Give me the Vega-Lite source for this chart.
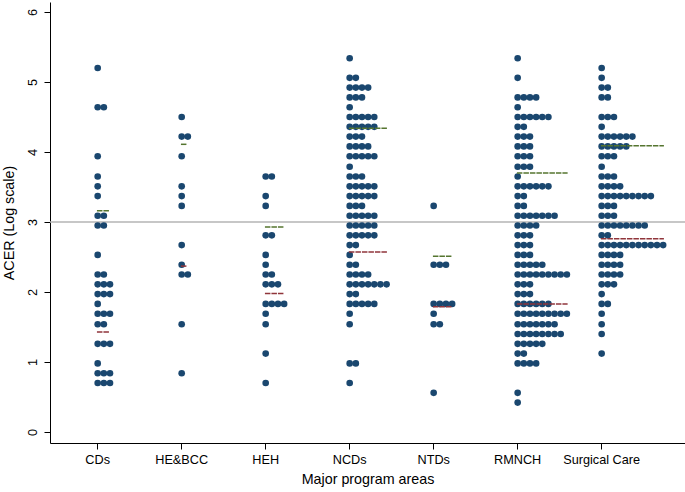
{
"$schema":"https://vega.github.io/schema/vega-lite/v6.json",
"width":635,"height":441,
"autosize":{"type":"none"},
"padding":{"left":50,"top":2,"right":0,"bottom":49},
"background":"white",
"config":{"view":{"stroke":null},"font":"Liberation Sans",
"axis":{"domainColor":"#000","tickColor":"#000","labelColor":"#000","titleColor":"#000","labelFont":"Liberation Sans","titleFont":"Liberation Sans","labelFontSize":12.7,"titleFontSize":14.3,"titleFontWeight":"normal","tickSize":6,"grid":false,"domainWidth":1,"tickWidth":1}},
"datasets":{
"refs":[
{"area":"CDs","upper":3.16,"lower":1.43},
{"area":"HE&BCC","upper":4.11,"lower":2.37},
{"area":"HEH","upper":2.93,"lower":1.98},
{"area":"NCDs","upper":4.34,"lower":2.57},
{"area":"NTDs","upper":2.51,"lower":1.79},
{"area":"RMNCH","upper":3.7,"lower":1.83},
{"area":"Surgical Care","upper":4.09,"lower":2.76}],
"dots":[
{"area":"CDs","acer":5.2},
{"area":"CDs","acer":4.64},{"area":"CDs","acer":4.64},
{"area":"CDs","acer":3.94},
{"area":"CDs","acer":3.65},
{"area":"CDs","acer":3.51},
{"area":"CDs","acer":3.37},
{"area":"CDs","acer":3.09},{"area":"CDs","acer":3.09},
{"area":"CDs","acer":2.95},{"area":"CDs","acer":2.95},
{"area":"CDs","acer":2.53},
{"area":"CDs","acer":2.25},{"area":"CDs","acer":2.25},
{"area":"CDs","acer":2.11},{"area":"CDs","acer":2.11},{"area":"CDs","acer":2.11},
{"area":"CDs","acer":1.97},{"area":"CDs","acer":1.97},{"area":"CDs","acer":1.97},
{"area":"CDs","acer":1.83},
{"area":"CDs","acer":1.69},{"area":"CDs","acer":1.69},{"area":"CDs","acer":1.69},
{"area":"CDs","acer":1.54},{"area":"CDs","acer":1.54},
{"area":"CDs","acer":1.26},{"area":"CDs","acer":1.26},{"area":"CDs","acer":1.26},
{"area":"CDs","acer":0.98},
{"area":"CDs","acer":0.84},{"area":"CDs","acer":0.84},{"area":"CDs","acer":0.84},
{"area":"CDs","acer":0.7},{"area":"CDs","acer":0.7},{"area":"CDs","acer":0.7},
{"area":"HE&BCC","acer":4.5},
{"area":"HE&BCC","acer":4.22},{"area":"HE&BCC","acer":4.22},
{"area":"HE&BCC","acer":3.94},
{"area":"HE&BCC","acer":3.51},
{"area":"HE&BCC","acer":3.37},
{"area":"HE&BCC","acer":3.23},
{"area":"HE&BCC","acer":2.67},
{"area":"HE&BCC","acer":2.39},
{"area":"HE&BCC","acer":2.25},{"area":"HE&BCC","acer":2.25},
{"area":"HE&BCC","acer":1.54},
{"area":"HE&BCC","acer":0.84},
{"area":"HEH","acer":3.65},{"area":"HEH","acer":3.65},
{"area":"HEH","acer":3.37},
{"area":"HEH","acer":3.23},
{"area":"HEH","acer":2.81},{"area":"HEH","acer":2.81},
{"area":"HEH","acer":2.53},
{"area":"HEH","acer":2.39},
{"area":"HEH","acer":2.25},{"area":"HEH","acer":2.25},
{"area":"HEH","acer":2.11},{"area":"HEH","acer":2.11},{"area":"HEH","acer":2.11},
{"area":"HEH","acer":1.83},{"area":"HEH","acer":1.83},{"area":"HEH","acer":1.83},{"area":"HEH","acer":1.83},
{"area":"HEH","acer":1.69},
{"area":"HEH","acer":1.54},
{"area":"HEH","acer":1.12},
{"area":"HEH","acer":0.7},
{"area":"NCDs","acer":5.34},
{"area":"NCDs","acer":5.06},{"area":"NCDs","acer":5.06},
{"area":"NCDs","acer":4.92},{"area":"NCDs","acer":4.92},{"area":"NCDs","acer":4.92},{"area":"NCDs","acer":4.92},
{"area":"NCDs","acer":4.78},{"area":"NCDs","acer":4.78},{"area":"NCDs","acer":4.78},
{"area":"NCDs","acer":4.64},
{"area":"NCDs","acer":4.5},{"area":"NCDs","acer":4.5},{"area":"NCDs","acer":4.5},{"area":"NCDs","acer":4.5},{"area":"NCDs","acer":4.5},
{"area":"NCDs","acer":4.36},{"area":"NCDs","acer":4.36},{"area":"NCDs","acer":4.36},{"area":"NCDs","acer":4.36},{"area":"NCDs","acer":4.36},
{"area":"NCDs","acer":4.22},{"area":"NCDs","acer":4.22},{"area":"NCDs","acer":4.22},
{"area":"NCDs","acer":4.08},{"area":"NCDs","acer":4.08},{"area":"NCDs","acer":4.08},{"area":"NCDs","acer":4.08},
{"area":"NCDs","acer":3.94},{"area":"NCDs","acer":3.94},{"area":"NCDs","acer":3.94},{"area":"NCDs","acer":3.94},{"area":"NCDs","acer":3.94},
{"area":"NCDs","acer":3.79},
{"area":"NCDs","acer":3.65},{"area":"NCDs","acer":3.65},{"area":"NCDs","acer":3.65},
{"area":"NCDs","acer":3.51},{"area":"NCDs","acer":3.51},{"area":"NCDs","acer":3.51},{"area":"NCDs","acer":3.51},{"area":"NCDs","acer":3.51},
{"area":"NCDs","acer":3.37},{"area":"NCDs","acer":3.37},{"area":"NCDs","acer":3.37},{"area":"NCDs","acer":3.37},{"area":"NCDs","acer":3.37},
{"area":"NCDs","acer":3.23},{"area":"NCDs","acer":3.23},{"area":"NCDs","acer":3.23},
{"area":"NCDs","acer":3.09},{"area":"NCDs","acer":3.09},{"area":"NCDs","acer":3.09},{"area":"NCDs","acer":3.09},{"area":"NCDs","acer":3.09},
{"area":"NCDs","acer":2.95},{"area":"NCDs","acer":2.95},{"area":"NCDs","acer":2.95},{"area":"NCDs","acer":2.95},{"area":"NCDs","acer":2.95},
{"area":"NCDs","acer":2.81},{"area":"NCDs","acer":2.81},{"area":"NCDs","acer":2.81},{"area":"NCDs","acer":2.81},{"area":"NCDs","acer":2.81},
{"area":"NCDs","acer":2.67},{"area":"NCDs","acer":2.67},
{"area":"NCDs","acer":2.53},
{"area":"NCDs","acer":2.39},{"area":"NCDs","acer":2.39},
{"area":"NCDs","acer":2.25},{"area":"NCDs","acer":2.25},{"area":"NCDs","acer":2.25},{"area":"NCDs","acer":2.25},
{"area":"NCDs","acer":2.11},{"area":"NCDs","acer":2.11},{"area":"NCDs","acer":2.11},{"area":"NCDs","acer":2.11},{"area":"NCDs","acer":2.11},{"area":"NCDs","acer":2.11},{"area":"NCDs","acer":2.11},
{"area":"NCDs","acer":1.97},{"area":"NCDs","acer":1.97},
{"area":"NCDs","acer":1.83},{"area":"NCDs","acer":1.83},{"area":"NCDs","acer":1.83},{"area":"NCDs","acer":1.83},{"area":"NCDs","acer":1.83},
{"area":"NCDs","acer":1.69},
{"area":"NCDs","acer":1.54},
{"area":"NCDs","acer":0.98},{"area":"NCDs","acer":0.98},
{"area":"NCDs","acer":0.7},
{"area":"NTDs","acer":3.23},
{"area":"NTDs","acer":2.39},{"area":"NTDs","acer":2.39},{"area":"NTDs","acer":2.39},
{"area":"NTDs","acer":1.83},{"area":"NTDs","acer":1.83},{"area":"NTDs","acer":1.83},{"area":"NTDs","acer":1.83},
{"area":"NTDs","acer":1.69},
{"area":"NTDs","acer":1.54},{"area":"NTDs","acer":1.54},
{"area":"NTDs","acer":0.56},
{"area":"RMNCH","acer":5.34},
{"area":"RMNCH","acer":5.06},
{"area":"RMNCH","acer":4.78},{"area":"RMNCH","acer":4.78},{"area":"RMNCH","acer":4.78},{"area":"RMNCH","acer":4.78},
{"area":"RMNCH","acer":4.64},
{"area":"RMNCH","acer":4.5},{"area":"RMNCH","acer":4.5},{"area":"RMNCH","acer":4.5},{"area":"RMNCH","acer":4.5},{"area":"RMNCH","acer":4.5},{"area":"RMNCH","acer":4.5},
{"area":"RMNCH","acer":4.36},{"area":"RMNCH","acer":4.36},
{"area":"RMNCH","acer":4.22},{"area":"RMNCH","acer":4.22},{"area":"RMNCH","acer":4.22},
{"area":"RMNCH","acer":4.08},{"area":"RMNCH","acer":4.08},{"area":"RMNCH","acer":4.08},
{"area":"RMNCH","acer":3.94},{"area":"RMNCH","acer":3.94},{"area":"RMNCH","acer":3.94},
{"area":"RMNCH","acer":3.79},{"area":"RMNCH","acer":3.79},{"area":"RMNCH","acer":3.79},
{"area":"RMNCH","acer":3.65},
{"area":"RMNCH","acer":3.51},{"area":"RMNCH","acer":3.51},{"area":"RMNCH","acer":3.51},{"area":"RMNCH","acer":3.51},{"area":"RMNCH","acer":3.51},{"area":"RMNCH","acer":3.51},
{"area":"RMNCH","acer":3.37},{"area":"RMNCH","acer":3.37},
{"area":"RMNCH","acer":3.23},{"area":"RMNCH","acer":3.23},
{"area":"RMNCH","acer":3.09},{"area":"RMNCH","acer":3.09},{"area":"RMNCH","acer":3.09},{"area":"RMNCH","acer":3.09},{"area":"RMNCH","acer":3.09},{"area":"RMNCH","acer":3.09},{"area":"RMNCH","acer":3.09},
{"area":"RMNCH","acer":2.95},{"area":"RMNCH","acer":2.95},{"area":"RMNCH","acer":2.95},{"area":"RMNCH","acer":2.95},
{"area":"RMNCH","acer":2.81},{"area":"RMNCH","acer":2.81},{"area":"RMNCH","acer":2.81},
{"area":"RMNCH","acer":2.67},{"area":"RMNCH","acer":2.67},{"area":"RMNCH","acer":2.67},
{"area":"RMNCH","acer":2.53},{"area":"RMNCH","acer":2.53},{"area":"RMNCH","acer":2.53},
{"area":"RMNCH","acer":2.39},{"area":"RMNCH","acer":2.39},{"area":"RMNCH","acer":2.39},{"area":"RMNCH","acer":2.39},{"area":"RMNCH","acer":2.39},
{"area":"RMNCH","acer":2.25},{"area":"RMNCH","acer":2.25},{"area":"RMNCH","acer":2.25},{"area":"RMNCH","acer":2.25},{"area":"RMNCH","acer":2.25},{"area":"RMNCH","acer":2.25},{"area":"RMNCH","acer":2.25},{"area":"RMNCH","acer":2.25},{"area":"RMNCH","acer":2.25},
{"area":"RMNCH","acer":2.11},{"area":"RMNCH","acer":2.11},{"area":"RMNCH","acer":2.11},
{"area":"RMNCH","acer":1.97},{"area":"RMNCH","acer":1.97},{"area":"RMNCH","acer":1.97},
{"area":"RMNCH","acer":1.83},{"area":"RMNCH","acer":1.83},{"area":"RMNCH","acer":1.83},{"area":"RMNCH","acer":1.83},{"area":"RMNCH","acer":1.83},{"area":"RMNCH","acer":1.83},
{"area":"RMNCH","acer":1.69},{"area":"RMNCH","acer":1.69},{"area":"RMNCH","acer":1.69},{"area":"RMNCH","acer":1.69},{"area":"RMNCH","acer":1.69},{"area":"RMNCH","acer":1.69},{"area":"RMNCH","acer":1.69},{"area":"RMNCH","acer":1.69},{"area":"RMNCH","acer":1.69},
{"area":"RMNCH","acer":1.54},{"area":"RMNCH","acer":1.54},{"area":"RMNCH","acer":1.54},{"area":"RMNCH","acer":1.54},{"area":"RMNCH","acer":1.54},{"area":"RMNCH","acer":1.54},{"area":"RMNCH","acer":1.54},
{"area":"RMNCH","acer":1.4},{"area":"RMNCH","acer":1.4},{"area":"RMNCH","acer":1.4},{"area":"RMNCH","acer":1.4},{"area":"RMNCH","acer":1.4},{"area":"RMNCH","acer":1.4},{"area":"RMNCH","acer":1.4},{"area":"RMNCH","acer":1.4},
{"area":"RMNCH","acer":1.26},{"area":"RMNCH","acer":1.26},{"area":"RMNCH","acer":1.26},{"area":"RMNCH","acer":1.26},{"area":"RMNCH","acer":1.26},
{"area":"RMNCH","acer":1.12},{"area":"RMNCH","acer":1.12},
{"area":"RMNCH","acer":0.98},{"area":"RMNCH","acer":0.98},{"area":"RMNCH","acer":0.98},{"area":"RMNCH","acer":0.98},
{"area":"RMNCH","acer":0.56},
{"area":"RMNCH","acer":0.42},
{"area":"Surgical Care","acer":5.2},
{"area":"Surgical Care","acer":5.06},
{"area":"Surgical Care","acer":4.92},{"area":"Surgical Care","acer":4.92},
{"area":"Surgical Care","acer":4.78},{"area":"Surgical Care","acer":4.78},
{"area":"Surgical Care","acer":4.5},{"area":"Surgical Care","acer":4.5},{"area":"Surgical Care","acer":4.5},
{"area":"Surgical Care","acer":4.36},
{"area":"Surgical Care","acer":4.22},{"area":"Surgical Care","acer":4.22},{"area":"Surgical Care","acer":4.22},{"area":"Surgical Care","acer":4.22},{"area":"Surgical Care","acer":4.22},{"area":"Surgical Care","acer":4.22},
{"area":"Surgical Care","acer":4.08},{"area":"Surgical Care","acer":4.08},{"area":"Surgical Care","acer":4.08},{"area":"Surgical Care","acer":4.08},{"area":"Surgical Care","acer":4.08},
{"area":"Surgical Care","acer":3.94},{"area":"Surgical Care","acer":3.94},{"area":"Surgical Care","acer":3.94},
{"area":"Surgical Care","acer":3.79},
{"area":"Surgical Care","acer":3.65},{"area":"Surgical Care","acer":3.65},{"area":"Surgical Care","acer":3.65},
{"area":"Surgical Care","acer":3.51},{"area":"Surgical Care","acer":3.51},{"area":"Surgical Care","acer":3.51},{"area":"Surgical Care","acer":3.51},
{"area":"Surgical Care","acer":3.37},{"area":"Surgical Care","acer":3.37},{"area":"Surgical Care","acer":3.37},{"area":"Surgical Care","acer":3.37},{"area":"Surgical Care","acer":3.37},{"area":"Surgical Care","acer":3.37},{"area":"Surgical Care","acer":3.37},{"area":"Surgical Care","acer":3.37},{"area":"Surgical Care","acer":3.37},
{"area":"Surgical Care","acer":3.23},{"area":"Surgical Care","acer":3.23},{"area":"Surgical Care","acer":3.23},
{"area":"Surgical Care","acer":3.09},{"area":"Surgical Care","acer":3.09},{"area":"Surgical Care","acer":3.09},
{"area":"Surgical Care","acer":2.95},{"area":"Surgical Care","acer":2.95},{"area":"Surgical Care","acer":2.95},{"area":"Surgical Care","acer":2.95},{"area":"Surgical Care","acer":2.95},{"area":"Surgical Care","acer":2.95},{"area":"Surgical Care","acer":2.95},{"area":"Surgical Care","acer":2.95},
{"area":"Surgical Care","acer":2.81},{"area":"Surgical Care","acer":2.81},
{"area":"Surgical Care","acer":2.67},{"area":"Surgical Care","acer":2.67},{"area":"Surgical Care","acer":2.67},{"area":"Surgical Care","acer":2.67},{"area":"Surgical Care","acer":2.67},{"area":"Surgical Care","acer":2.67},{"area":"Surgical Care","acer":2.67},{"area":"Surgical Care","acer":2.67},{"area":"Surgical Care","acer":2.67},{"area":"Surgical Care","acer":2.67},{"area":"Surgical Care","acer":2.67},
{"area":"Surgical Care","acer":2.53},{"area":"Surgical Care","acer":2.53},{"area":"Surgical Care","acer":2.53},{"area":"Surgical Care","acer":2.53},
{"area":"Surgical Care","acer":2.39},{"area":"Surgical Care","acer":2.39},{"area":"Surgical Care","acer":2.39},{"area":"Surgical Care","acer":2.39},
{"area":"Surgical Care","acer":2.25},{"area":"Surgical Care","acer":2.25},{"area":"Surgical Care","acer":2.25},{"area":"Surgical Care","acer":2.25},
{"area":"Surgical Care","acer":2.11},{"area":"Surgical Care","acer":2.11},{"area":"Surgical Care","acer":2.11},
{"area":"Surgical Care","acer":1.97},
{"area":"Surgical Care","acer":1.83},{"area":"Surgical Care","acer":1.83},
{"area":"Surgical Care","acer":1.69},
{"area":"Surgical Care","acer":1.54},
{"area":"Surgical Care","acer":1.4},
{"area":"Surgical Care","acer":1.12}
]},
"layer":[
{"data":{"values":[{}]},
 "mark":{"type":"rule","color":"#b4b4b4","strokeWidth":1.5},
 "encoding":{"y":{"datum":3,"type":"quantitative","title":"ACER (Log scale)"}}},
{"data":{"name":"dots"},
 "transform":[{"window":[{"op":"row_number","as":"k"}],"groupby":["area","acer"]}],
 "mark":{"type":"circle","size":44,"opacity":1,"color":"#1a476f"},
 "encoding":{
  "x":{"field":"area","type":"nominal","title":"Major program areas",
   "scale":{"type":"band","domain":["CDs","HE&BCC","HEH","NCDs","NTDs","RMNCH","Surgical Care"],"paddingInner":0,"paddingOuter":0.28,"align":0.121},
   "axis":{"labelAngle":0,"labelPadding":4,"titlePadding":7}},
  "xOffset":{"field":"k","type":"quantitative","scale":{"domain":[1,11],"range":[42,103.5],"zero":false}},
  "y":{"field":"acer","type":"quantitative","title":"ACER (Log scale)",
   "scale":{"domain":[-0.157,6.143],"nice":false,"zero":false},
   "axis":{"values":[0,1,2,3,4,5,6],"format":"d","labelAngle":270,"labelAlign":"center","labelBaseline":"bottom","labelPadding":5,"titlePadding":10}}}},
{"data":{"name":"dots"},
 "transform":[
  {"window":[{"op":"row_number","as":"k"}],"groupby":["area","acer"]},
  {"aggregate":[{"op":"min","field":"k","as":"kstart"},{"op":"max","field":"k","as":"kend"}],"groupby":["area"]},
  {"fold":["kstart","kend"],"as":["end","kpos"]},
  {"lookup":"area","from":{"data":{"name":"refs"},"key":"area","fields":["upper","lower"]}},
  {"fold":["upper","lower"],"as":["ref","value"]}],
 "mark":{"type":"line","strokeDash":[4,2.5],"strokeWidth":1.5,"strokeCap":"square"},
 "encoding":{
  "x":{"field":"area","type":"nominal","title":"Major program areas"},
  "xOffset":{"field":"kpos","type":"quantitative"},
  "y":{"field":"value","type":"quantitative","title":"ACER (Log scale)"},
  "detail":{"field":"area"},
  "color":{"field":"ref","type":"nominal","scale":{"domain":["upper","lower"],"range":["#55752f","#90353b"]},"legend":null}}}
]
}
